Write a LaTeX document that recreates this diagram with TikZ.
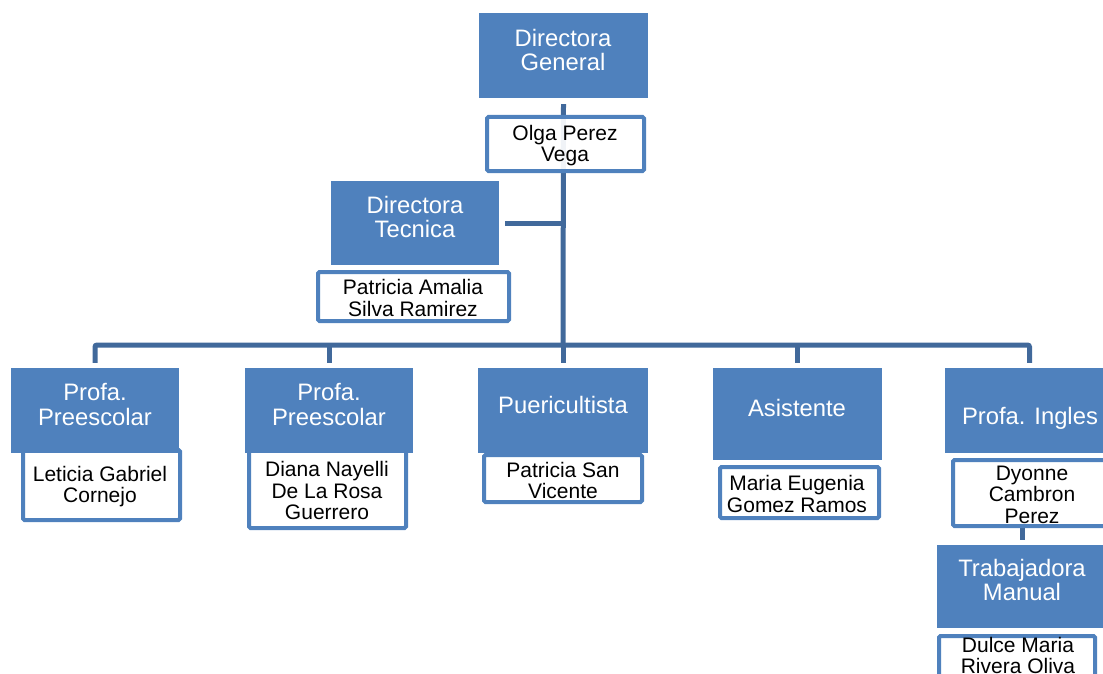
\documentclass[tikz,border=0pt]{standalone}
\usepackage{fontspec}
\setmainfont{Liberation Sans}
\usetikzlibrary{calc}
\definecolor{boxblue}{HTML}{4F81BD}
\definecolor{linkblue}{HTML}{41699B}
\tikzset{
  bluebox/.style={fill=boxblue, draw=none, inner sep=0pt, minimum width=168pt, minimum height=85pt},
  namebox/.style={fill=white, draw=boxblue, line width=4pt, rounded corners=1.5pt, inner sep=0pt, minimum width=157pt},
  whitetext/.style={text=white, align=center, inner sep=0pt, font=\fontsize{23.8}{24.5}\selectfont},
  blacktext/.style={text=black, align=center, inner sep=0pt, font=\fontsize{21}{21.5}\selectfont, yshift=-1.5pt},
  link/.style={draw=linkblue, line width=5pt},
}
\begin{document}
\begin{tikzpicture}[x=1pt,y=-1pt]
\useasboundingbox (0,0) rectangle (1103,674);
\clip (0,0) rectangle (1103,674);

% blue boxes positions (nodes without text)
\node[bluebox, minimum width=169pt] (dg) at (563.5,55.5) {};
\node[bluebox, minimum height=84pt] (dt) at (415,223) {};
\node[bluebox] (p1) at (95,410.5) {};
\node[bluebox] (p2) at (329,410.5) {};
\node[bluebox, minimum width=170pt] (pu) at (563,410.5) {};
\node[bluebox, minimum width=169pt, minimum height=92pt] (as) at (797.5,414) {};
\node[bluebox, minimum width=169pt] (pi) at (1029.5,410.5) {};
\node[bluebox, minimum width=169pt, minimum height=83pt] (tm) at (1021.5,586.5) {};

% connectors
\coordinate (top) at ($(dg.south)+(0,6)$);
\coordinate (bar) at (563,345);
\coordinate (tj) at ($(dt.east)+(6,0)$);
\draw[link] (top) -- (bar);
\draw[link] (tj) -- (tj -| bar);
\draw[link, rounded corners=2pt] ($(p1.north)+(0,-5)$) |- (bar) -| ($(pi.north)+(0,-5)$);
\draw[link] ($(p2.north)+(0,-5)$) -- ($(p2.north)+(0,-23)$);
\draw[link] ($(pu.north)+(0,-5)$) -- (bar);
\draw[link] ($(as.north)+(0,-5)$) -- ($(as.north)+(0,-23)$);
\draw[link] (1022,526) -- ($(tm.north)+(0.5,-5)$);

% name boxes
\node[namebox, minimum height=54pt, fill opacity=0.92] (op) at (565.5,144) {};
\node[namebox, minimum width=191pt, minimum height=49pt] (pa) at (413.5,296.5) {};
\node[namebox, minimum height=70pt] (le) at (101.5,485) {};
\node[namebox, minimum height=78pt] (di) at (327.5,489) {};
\node[namebox, minimum width=158pt, minimum height=47pt] (ps) at (563,478.5) {};
\node[namebox, minimum width=159pt, minimum height=51pt] (me) at (799.5,492.5) {};
\node[namebox, minimum height=66pt] (dy) at (1031.5,493) {};
\node[namebox, minimum width=156pt, minimum height=68pt] (du) at (1017,670) {};

% redraw blue boxes over overlapping name boxes
\fill[boxblue] (p1.south west) rectangle (p1.north east);
\fill[boxblue] (p2.south west) rectangle (p2.north east);

% texts
\node[whitetext] (dgt) at (563,50) {Directora\\General};
\node[whitetext] (dtt) at (415,217) {Directora\\Tecnica};
\node[whitetext] (p1t) at (95,404.5) {Profa.\\Preescolar};
\node[whitetext] (p2t) at (329,404.5) {Profa.\\Preescolar};
\node[whitetext] (put) at (563,405) {Puericultista};
\node[whitetext] (ast) at (797,408) {Asistente};
\node[whitetext] (pit) at (1030,418) {Profa. Ingles};
\node[whitetext] (tmt) at (1022,580) {Trabajadora\\Manual};

\node[blacktext] (opt) at (565,144) {Olga Perez\\Vega};
\node[blacktext] (pat) at (413,296.5) {Patricia Amalia\\Silva Ramirez};
\node[blacktext] (let) at (100,485) {Leticia Gabriel\\Cornejo};
\node[blacktext] (dit) at (327,489) {Diana Nayelli\\De La Rosa\\Guerrero};
\node[blacktext] (pst) at (563,479) {Patricia San\\Vicente};
\node[blacktext] (met) at (797,492.5) {Maria Eugenia\\Gomez Ramos};
\node[blacktext] (dyt) at (1032,493) {Dyonne\\Cambron\\Perez};
\node[blacktext] (dut) at (1018,654) {Dulce Maria\\Rivera Oliva};
\end{tikzpicture}
\end{document}
